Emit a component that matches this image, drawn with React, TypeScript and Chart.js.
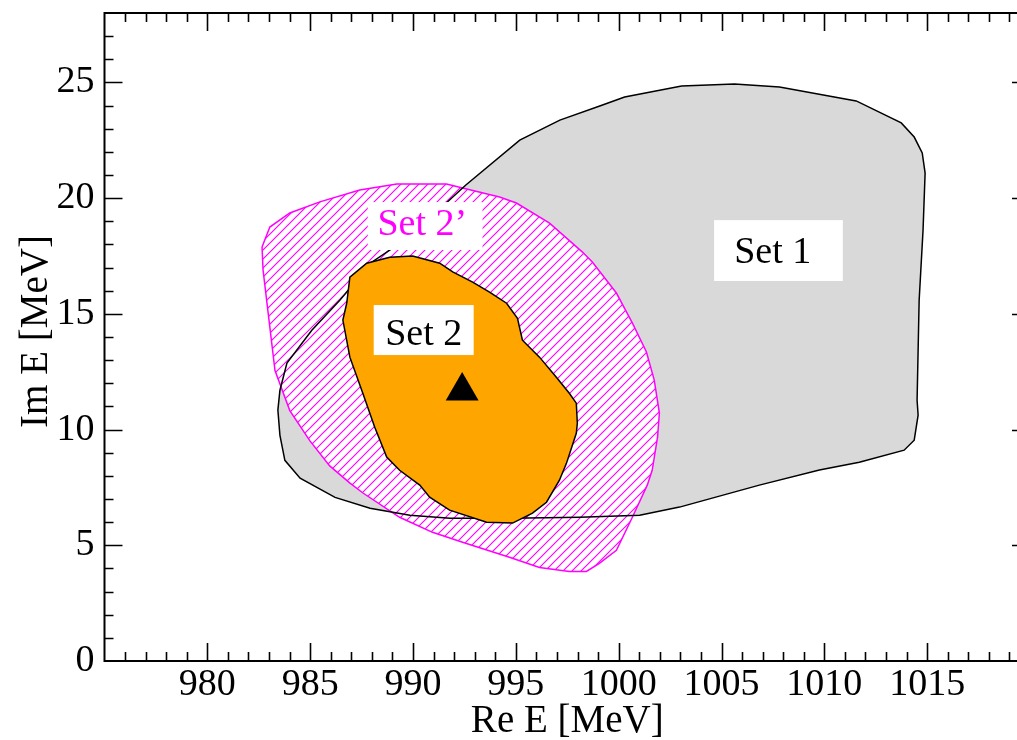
import React, { useEffect, useRef } from 'react';
import { Chart, registerables } from 'chart.js';

Chart.register(...registerables);

// ---- Data (Re E, Im E in MeV) ----
const set1Re = [992.57, 990.81, 988.87, 987.99, 986.44, 985.08, 983.87, 983.53, 983.43, 983.53, 983.77, 984.51, 986.21, 987.91, 989.85, 991.80, 994.71, 998.11, 1001.02, 1002.96, 1006.84, 1009.76, 1011.70, 1013.88, 1014.37, 1014.56, 1014.51, 1014.61, 1014.80, 1014.90, 1014.76, 1014.37, 1013.74, 1011.55, 1007.82, 1005.63, 1003.06, 1000.29, 999.08, 997.14, 995.19];
const set1Im = [20.57, 19.13, 17.75, 17.23, 15.59, 14.29, 12.87, 11.70, 10.84, 9.75, 8.67, 7.90, 7.07, 6.60, 6.30, 6.17, 6.17, 6.21, 6.30, 6.65, 7.60, 8.25, 8.59, 9.11, 9.54, 10.62, 11.27, 15.59, 18.62, 21.08, 21.95, 22.64, 23.25, 24.20, 24.80, 24.93, 24.85, 24.37, 23.98, 23.37, 22.51];

const set2pRe = [982.66, 983.04, 984.01, 985.47, 987.41, 989.21, 991.63, 992.41, 994.21, 995.03, 996.64, 998.24, 998.72, 999.89, 1000.67, 1001.35, 1001.73, 1001.98, 1001.89, 1001.63, 1001.39, 1000.66, 999.89, 999.06, 998.43, 997.60, 996.15, 994.69, 992.41, 990.95, 989.35, 987.55, 986.92, 985.95, 984.98, 984.01, 983.29, 982.71];
const set2pIm = [17.89, 18.75, 19.36, 19.84, 20.35, 20.61, 20.61, 20.44, 20.05, 19.79, 18.92, 17.67, 17.24, 15.90, 14.60, 13.35, 12.14, 10.71, 9.67, 8.24, 7.60, 6.20, 4.78, 4.22, 3.87, 3.87, 4.04, 4.48, 5.13, 5.56, 6.21, 7.27, 7.70, 8.43, 9.52, 10.82, 12.55, 16.89];

const set2Re = [986.78, 986.93, 987.75, 988.87, 989.98, 991.30, 991.93, 992.90, 993.72, 994.55, 995.08, 995.32, 996.15, 996.97, 997.60, 997.94, 997.99, 997.94, 997.46, 997.12, 996.49, 995.81, 994.84, 993.58, 991.78, 990.81, 990.33, 989.35, 988.72, 988.14, 987.56, 986.93, 986.59];
const set2Im = [15.47, 16.59, 17.19, 17.45, 17.50, 17.19, 16.81, 16.37, 15.94, 15.46, 14.81, 13.86, 13.13, 12.26, 11.57, 11.14, 10.27, 9.84, 8.54, 7.81, 6.86, 6.39, 5.96, 6.00, 6.52, 7.08, 7.60, 8.24, 8.81, 10.10, 11.57, 13.13, 14.73];

const poleRe = [992.39];
const poleIm = [11.67];

const xTickLabels = [980, 985, 990, 995, 1000, 1005, 1010, 1015];
const yTickLabels = [0, 5, 10, 15, 20, 25];

const labelTexts = ['Set 2\u2019', 'Set 2', 'Set 1'];
const labelColors = ['#ff00ff', '#000000', '#000000'];
const labelRe = [990.45, 990.52, 1007.49];
const labelIm = [18.40, 13.65, 17.21];
const boxRe0 = [987.80, 988.09, 1004.64];
const boxRe1 = [993.38, 992.95, 1010.90];
const boxIm0 = [19.83, 15.38, 19.05];
const boxIm1 = [17.76, 13.22, 16.42];

const FONT = "'Liberation Serif', 'Times New Roman', serif";

const toPts = (xs: number[], ys: number[]) => xs.map((x, i) => ({ x, y: ys[i] }));
const closed = (xs: number[], ys: number[]) => {
  const p = toPts(xs, ys);
  return [...p, { ...p[0] }];
};

function makeHatch(ctx: CanvasRenderingContext2D) {
  const s = 9;
  const c = document.createElement('canvas');
  c.width = s;
  c.height = s;
  const g = c.getContext('2d')!;
  g.fillStyle = '#ffffff';
  g.fillRect(0, 0, s, s);
  g.strokeStyle = '#ff00ff';
  g.lineWidth = 1.2;
  g.beginPath();
  g.moveTo(-1, s + 1);
  g.lineTo(s + 1, -1);
  g.moveTo(-1, 1);
  g.lineTo(1, -1);
  g.moveTo(s - 1, s + 1);
  g.lineTo(s + 1, s - 1);
  g.stroke();
  return ctx.createPattern(c, 'repeat')!;
}

const decorPlugin = {
  id: 'decor',
  afterDatasetsDraw(chart: any) {
    const { ctx, chartArea: a, scales } = chart;
    const x = scales.x;
    const y = scales.y;
    ctx.save();
    // labels with white boxes
    for (let i = 0; i < labelTexts.length; i++) {
      const bx0 = x.getPixelForValue(boxRe0[i]);
      const bx1 = x.getPixelForValue(boxRe1[i]);
      const by0 = y.getPixelForValue(boxIm0[i]);
      const by1 = y.getPixelForValue(boxIm1[i]);
      ctx.fillStyle = '#ffffff';
      ctx.fillRect(bx0, by0, bx1 - bx0, by1 - by0);
      ctx.fillStyle = labelColors[i];
      ctx.font = `38px ${FONT}`;
      ctx.textAlign = 'center';
      ctx.textBaseline = 'alphabetic';
      ctx.fillText(labelTexts[i], x.getPixelForValue(labelRe[i]), y.getPixelForValue(labelIm[i]));
    }
    // ticks (inward, all four sides)
    ctx.strokeStyle = '#000';
    ctx.lineWidth = 1.6;
    ctx.beginPath();
    for (let v = Math.ceil(x.min) + 1; v < x.max; v++) {
      const px = Math.round(x.getPixelForValue(v)) + 0.5;
      const len = v % 5 === 0 ? 18 : 9;
      ctx.moveTo(px, a.bottom);
      ctx.lineTo(px, a.bottom - len);
      ctx.moveTo(px, a.top);
      ctx.lineTo(px, a.top + len);
    }
    for (let v = Math.ceil(y.min) + 1; v < y.max; v++) {
      const py = Math.round(y.getPixelForValue(v)) + 0.5;
      const len = v % 5 === 0 ? 18 : 9;
      ctx.moveTo(a.left, py);
      ctx.lineTo(a.left + len, py);
      ctx.moveTo(a.right, py);
      ctx.lineTo(a.right - len, py);
    }
    ctx.stroke();
    // frame
    ctx.lineWidth = 2;
    ctx.strokeRect(a.left, a.top, a.right - a.left, a.bottom - a.top);
    // axis titles
    ctx.fillStyle = '#000';
    ctx.font = `39px ${FONT}`;
    ctx.textAlign = 'center';
    ctx.textBaseline = 'alphabetic';
    ctx.fillText('Re E [MeV]', (a.left + a.right) / 2, 732);
    ctx.save();
    ctx.translate(47, (a.top + a.bottom) / 2 - 5.5);
    ctx.rotate(-Math.PI / 2);
    ctx.fillText('Im E [MeV]', 0, 0);
    ctx.restore();
    ctx.restore();
  },
};

export default function App() {
  const ref = useRef<HTMLCanvasElement>(null);
  useEffect(() => {
    const canvas = ref.current!;
    const ctx = canvas.getContext('2d')!;
    const hatch = makeHatch(ctx);
    const tickFont = { family: FONT, size: 38, lineHeight: 1 };
    const chart = new Chart(ctx, {
      type: 'line',
      data: {
        datasets: [
          {
            label: 'pole',
            data: toPts(poleRe, poleIm),
            showLine: false,
            pointStyle: 'triangle',
            pointRadius: 19,
            pointHoverRadius: 19,
            pointBackgroundColor: '#000',
            pointBorderColor: '#000',
            pointBorderWidth: 0,
            order: 0,
          },
          {
            label: 'Set 2',
            data: closed(set2Re, set2Im),
            fill: 'shape',
            backgroundColor: '#ffa500',
            borderColor: '#000',
            borderWidth: 1.5,
            pointRadius: 0,
            tension: 0,
            order: 1,
          },
          {
            label: 'Set 1 outline',
            data: closed(set1Re, set1Im),
            fill: false,
            borderColor: '#000',
            borderWidth: 1.5,
            pointRadius: 0,
            tension: 0,
            order: 2,
          },
          {
            label: "Set 2'",
            data: closed(set2pRe, set2pIm),
            fill: 'shape',
            backgroundColor: hatch,
            borderColor: '#ff00ff',
            borderWidth: 1.5,
            pointRadius: 0,
            tension: 0,
            order: 3,
          },
          {
            label: 'Set 1',
            data: closed(set1Re, set1Im),
            fill: 'shape',
            backgroundColor: '#d9d9d9',
            borderColor: 'rgba(0,0,0,0)',
            borderWidth: 1,
            pointRadius: 0,
            tension: 0,
            order: 4,
          },
        ] as any,
      },
      options: {
        animation: false,
        responsive: false,
        events: [],
        layout: { autoPadding: false, padding: { left: 0, right: 10, top: 13, bottom: 0 } },
        plugins: { legend: { display: false }, tooltip: { enabled: false } },
        scales: {
          x: {
            type: 'linear',
            min: 975,
            max: 1020,
            grid: { display: false, drawTicks: false },
            border: { display: false },
            ticks: {
              stepSize: 5,
              autoSkip: false,
              maxRotation: 0,
              padding: 5,
              color: '#000',
              font: tickFont,
              callback: (v: any) => (xTickLabels.includes(Number(v)) ? String(v) : ''),
            },
            afterFit: (s: any) => {
              s.height = 79;
              s.paddingLeft = 0;
              s.paddingRight = 0;
              s.paddingTop = 0;
              s.paddingBottom = 0;
            },
          },
          y: {
            type: 'linear',
            min: 0,
            max: 28,
            grid: { display: false, drawTicks: false },
            border: { display: false },
            ticks: {
              stepSize: 5,
              autoSkip: false,
              padding: 10,
              color: '#000',
              font: tickFont,
              callback: (v: any) => (yTickLabels.includes(Number(v)) ? String(v) : ''),
            },
            afterFit: (s: any) => {
              s.width = 104.5;
              s.paddingLeft = 0;
              s.paddingRight = 0;
              s.paddingTop = 0;
              s.paddingBottom = 0;
            },
          },
        },
      } as any,
      plugins: [decorPlugin],
    });
    return () => chart.destroy();
  }, []);
  return (
    <div
      style={{
        position: 'fixed',
        left: 0,
        top: 0,
        width: 1017,
        height: 740,
        overflow: 'hidden',
        background: '#fff',
      }}
    >
      <canvas ref={ref} width={1040} height={740} style={{ display: 'block', width: 1040, height: 740 }} />
    </div>
  );
}
